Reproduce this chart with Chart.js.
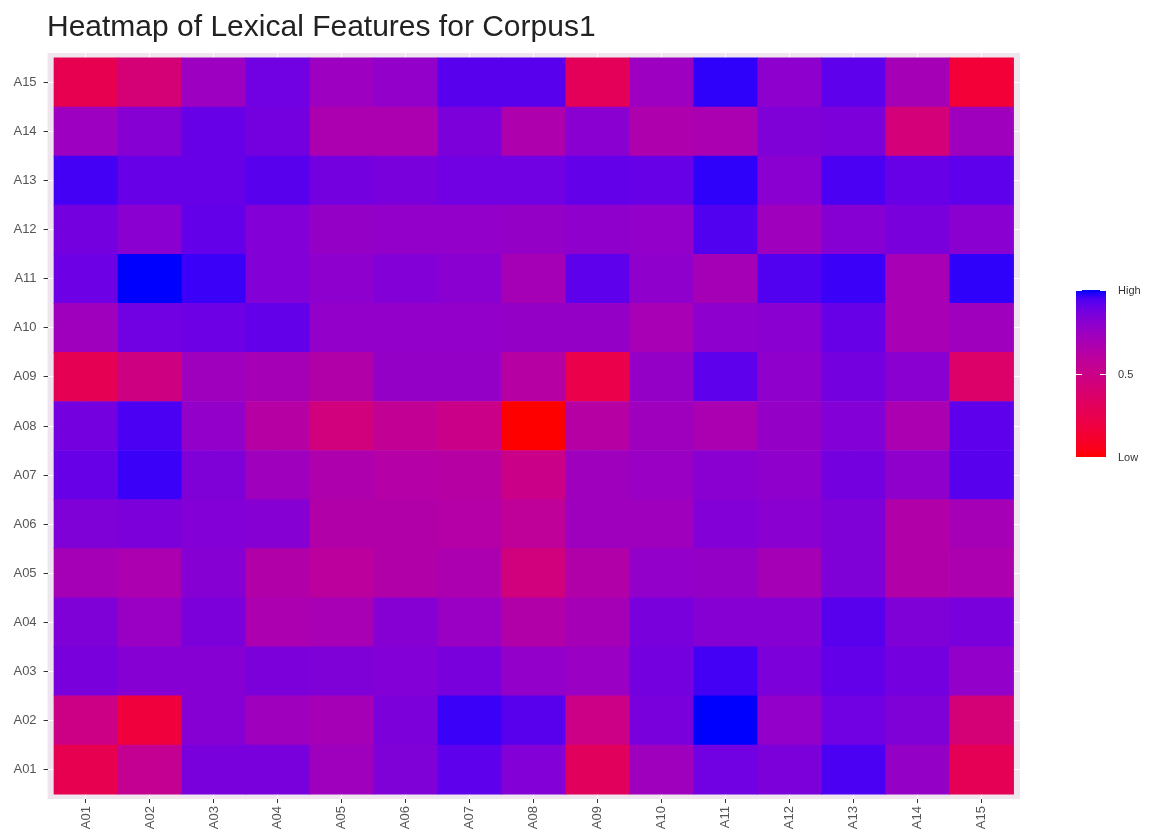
<!DOCTYPE html>
<html>
<head>
<meta charset="utf-8">
<script src="https://cdn.jsdelivr.net/npm/chart.js@4.4.1/dist/chart.umd.min.js"></script>
<style>
html,body{margin:0;padding:0;background:#fff}
#wrap{position:relative;width:1160px;height:839px}
#heat{position:absolute;left:0;top:0}
#title{position:absolute;left:47px;top:11px;margin:0;font:normal 30px/30px "Liberation Sans",Arial,sans-serif;color:#222;white-space:nowrap}
</style>
</head>
<body>
<div id="wrap">
  <canvas id="heat" width="1160" height="839"></canvas>
  <h1 id="title">Heatmap of Lexical Features for Corpus1</h1>
</div>
<script>
/* ---------- DATA ---------- */
const colLabels = ['A01','A02','A03','A04','A05','A06','A07','A08','A09','A10','A11','A12','A13','A14','A15'];
const rowLabels = ['A01','A02','A03','A04','A05','A06','A07','A08','A09','A10','A11','A12','A13','A14','A15'];

// one array per row, columns A01..A15 (0 = Low, 1 = High)
const A15 = [0.25,0.42,0.74,0.88,0.74,0.78,0.93,0.93,0.29,0.74,0.98,0.80,0.92,0.70,0.15];
const A14 = [0.74,0.82,0.90,0.87,0.67,0.67,0.85,0.66,0.81,0.66,0.68,0.84,0.85,0.43,0.73];
const A13 = [0.96,0.90,0.90,0.93,0.87,0.86,0.88,0.88,0.91,0.90,0.98,0.81,0.95,0.90,0.92];
const A12 = [0.87,0.81,0.91,0.83,0.77,0.78,0.78,0.77,0.79,0.78,0.94,0.73,0.82,0.86,0.81];
const A11 = [0.89,1.00,0.97,0.83,0.80,0.83,0.81,0.70,0.92,0.79,0.70,0.94,0.97,0.69,0.98];
const A10 = [0.73,0.88,0.89,0.91,0.78,0.78,0.78,0.77,0.77,0.69,0.80,0.81,0.90,0.69,0.73];
const A09 = [0.27,0.47,0.73,0.70,0.64,0.77,0.77,0.62,0.23,0.77,0.92,0.79,0.87,0.81,0.36];
const A08 = [0.87,0.95,0.78,0.62,0.45,0.55,0.50,0.00,0.62,0.73,0.68,0.77,0.83,0.68,0.92];
const A07 = [0.90,0.97,0.84,0.73,0.66,0.63,0.62,0.50,0.73,0.75,0.81,0.79,0.87,0.79,0.93];
const A06 = [0.84,0.85,0.83,0.82,0.64,0.64,0.63,0.57,0.73,0.73,0.83,0.81,0.84,0.64,0.70];
const A05 = [0.70,0.67,0.82,0.64,0.59,0.64,0.67,0.45,0.64,0.78,0.77,0.70,0.84,0.64,0.67];
const A04 = [0.84,0.75,0.85,0.67,0.69,0.82,0.75,0.64,0.70,0.86,0.82,0.82,0.93,0.84,0.86];
const A03 = [0.86,0.82,0.82,0.85,0.84,0.83,0.86,0.78,0.75,0.87,0.96,0.85,0.91,0.87,0.78];
const A02 = [0.48,0.17,0.82,0.73,0.70,0.85,0.97,0.93,0.49,0.86,1.00,0.78,0.88,0.84,0.42];
const A01 = [0.25,0.54,0.86,0.86,0.73,0.84,0.92,0.83,0.31,0.73,0.88,0.85,0.95,0.77,0.28];

const rows = [A01,A02,A03,A04,A05,A06,A07,A08,A09,A10,A11,A12,A13,A14,A15];
const legendLabels = ['Low','0.5','High'];

/* ---------- COLOUR SCALE (red -> blue, Lab interpolation like ggplot) ---------- */
const toLin = c => c <= 0.04045 ? c/12.92 : Math.pow((c+0.055)/1.055, 2.4);
const toSrgb = c => c <= 0.0031308 ? 12.92*c : 1.055*Math.pow(c,1/2.4)-0.055;
const WN = [0.95047,1,1.08883];
function rgb2lab([r,g,b]){
  const R=toLin(r/255),G=toLin(g/255),B=toLin(b/255);
  const xyz=[0.4124*R+0.3576*G+0.1805*B, 0.2126*R+0.7152*G+0.0722*B, 0.0193*R+0.1192*G+0.9505*B];
  const f=xyz.map((v,i)=>{const t=v/WN[i];return t>0.008856?Math.cbrt(t):7.787*t+16/116;});
  return [116*f[1]-16, 500*(f[0]-f[1]), 200*(f[1]-f[2])];
}
function lab2rgb([L,a,b]){
  const fy=(L+16)/116, fx=fy+a/500, fz=fy-b/200;
  const inv=f=>{const c=f*f*f;return c>0.008856?c:(f-16/116)/7.787;};
  const X=inv(fx)*WN[0],Y=inv(fy)*WN[1],Z=inv(fz)*WN[2];
  const lin=[3.2406*X-1.5372*Y-0.4986*Z, -0.9689*X+1.8758*Y+0.0415*Z, 0.0557*X-0.2040*Y+1.0570*Z];
  return lin.map(c=>Math.round(255*Math.min(1,Math.max(0,toSrgb(Math.max(0,c))))));
}
const LOW = rgb2lab([255,0,0]), HIGH = rgb2lab([0,0,255]);
function colorFor(v){
  const lab = LOW.map((l,i)=>l+(HIGH[i]-l)*v);
  const [r,g,b] = lab2rgb(lab);
  return `rgb(${r},${g},${b})`;
}

/* ---------- PLUGINS ---------- */
const panelBg = {
  id:'panelBg',
  beforeDraw(chart){
    const {ctx,chartArea:a} = chart;
    ctx.save(); ctx.fillStyle='#eee5ee';
    ctx.fillRect(a.left,a.top,a.right-a.left,a.bottom-a.top);
    ctx.restore();
  }
};

const colorBar = {
  id:'colorBar',
  afterDraw(chart){
    const ctx = chart.ctx;
    const x0=1076, w=30, top=290, bot=457;
    const g = ctx.createLinearGradient(0,bot,0,top);
    for(let i=0;i<=20;i++) g.addColorStop(i/20, colorFor(i/20));
    ctx.save();
    ctx.fillStyle=g; ctx.fillRect(x0,top,w,bot-top);
    ctx.strokeStyle='#ffffff'; ctx.lineWidth=1;
    ctx.font='11px "Liberation Sans", Arial, sans-serif';
    ctx.fillStyle='#333'; ctx.textBaseline='middle'; ctx.textAlign='left';
    legendLabels.forEach((lab,i)=>{
      const y = Math.round(bot-(bot-top)*i/2)+0.5;
      ctx.beginPath();
      ctx.moveTo(x0,y); ctx.lineTo(x0+6,y);
      ctx.moveTo(x0+w-6,y); ctx.lineTo(x0+w,y);
      ctx.stroke();
      ctx.fillText(lab, x0+w+12, y);
    });
    ctx.restore();
  }
};

/* ---------- CHART ---------- */
const datasets = rows.map((vals,r)=>({
  label: rowLabels[r],
  data: vals.map((v,c)=>({x:c+1, y:[r+0.5, r+1.5]})),
  backgroundColor: vals.map(colorFor),
  borderWidth:0,
  grouped:false,
  categoryPercentage:1,
  barPercentage:1
}));

const tickFont = {family:'"Liberation Sans", Arial, sans-serif', size:13};
const M = 0.1; // panel expansion around the tiles

new Chart(document.getElementById('heat'), {
  type:'bar',
  data:{datasets},
  options:{
    responsive:false,
    animation:false,
    layout:{padding:{top:53,right:140,bottom:0,left:0}},
    plugins:{legend:{display:false},tooltip:{enabled:false},title:{display:false}},
    scales:{
      x:{
        type:'linear', min:0.5-M, max:15.5+M, offset:false,
        afterBuildTicks:s=>{ s.ticks = colLabels.map((_,i)=>({value:i+1})); },
        afterFit:s=>{ s.height = 40; },
        ticks:{callback:v=>colLabels[v-1], autoSkip:false, minRotation:90, maxRotation:90,
               color:'#555', font:tickFont, padding:3},
        grid:{color:'#ffffff', lineWidth:1, offset:false, drawTicks:true, tickLength:4, tickColor:'#333'},
        border:{display:false}
      },
      y:{
        type:'linear', min:0.5-M, max:15.5+M,
        afterBuildTicks:s=>{ s.ticks = rowLabels.map((_,i)=>({value:i+1})); },
        afterFit:s=>{ s.width = 47.6; },
        ticks:{callback:v=>rowLabels[v-1], autoSkip:false, color:'#555', font:tickFont, padding:7},
        grid:{color:'#ffffff', lineWidth:1, drawTicks:true, tickLength:4, tickColor:'#333'},
        border:{display:false}
      }
    }
  },
  plugins:[panelBg, colorBar]
});
</script>
</body>
</html>
